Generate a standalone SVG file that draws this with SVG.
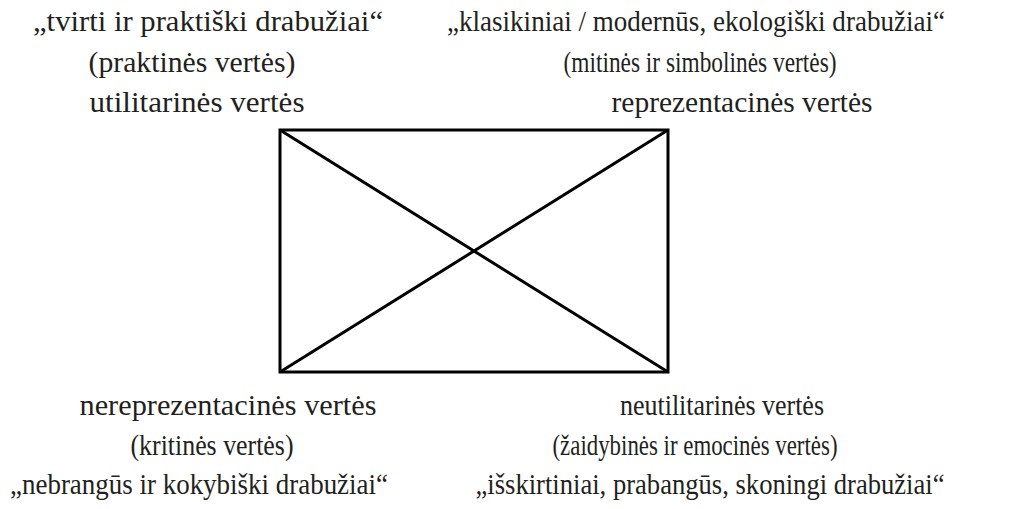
<svg xmlns="http://www.w3.org/2000/svg" width="1026" height="509" viewBox="0 0 1026 509">
<style>
text{font-family:"Liberation Serif","DejaVu Serif",serif;font-size:29px;fill:#231f20;text-anchor:middle}
.ln{stroke:#000;stroke-width:3;fill:none}
</style>
<rect width="1026" height="509" fill="#fff"/>
<g id="connectors">
<rect class="ln" x="280" y="130" width="388" height="242"/>
<line class="ln" x1="280" y1="130" x2="668" y2="372"/>
<line class="ln" x1="668" y1="130" x2="280" y2="372"/>
</g>
<g id="node-top-left">
<text x="208" y="31" textLength="350" lengthAdjust="spacingAndGlyphs">„tvirti ir praktiški drabužiai“</text>
<text x="192" y="72" textLength="207" lengthAdjust="spacingAndGlyphs">(praktinės vertės)</text>
<text x="197" y="112" textLength="215" lengthAdjust="spacingAndGlyphs">utilitarinės vertės</text>
</g>
<g id="node-top-right">
<text x="696" y="31" textLength="498" lengthAdjust="spacingAndGlyphs">„klasikiniai / modernūs, ekologiški drabužiai“</text>
<text x="700" y="72" textLength="273" lengthAdjust="spacingAndGlyphs">(mitinės ir simbolinės vertės)</text>
<text x="742" y="112" textLength="261" lengthAdjust="spacingAndGlyphs">reprezentacinės vertės</text>
</g>
<g id="node-bottom-left">
<text x="228" y="415" textLength="297" lengthAdjust="spacingAndGlyphs">nereprezentacinės vertės</text>
<text x="212" y="455" textLength="163" lengthAdjust="spacingAndGlyphs">(kritinės vertės)</text>
<text x="199" y="494" textLength="378" lengthAdjust="spacingAndGlyphs">„nebrangūs ir kokybiški drabužiai“</text>
</g>
<g id="node-bottom-right">
<text x="722" y="415" textLength="204" lengthAdjust="spacingAndGlyphs">neutilitarinės vertės</text>
<text x="695" y="455" textLength="285" lengthAdjust="spacingAndGlyphs">(žaidybinės ir emocinės vertės)</text>
<text x="710" y="494" textLength="469" lengthAdjust="spacingAndGlyphs">„išskirtiniai, prabangūs, skoningi drabužiai“</text>
</g>
</svg>
